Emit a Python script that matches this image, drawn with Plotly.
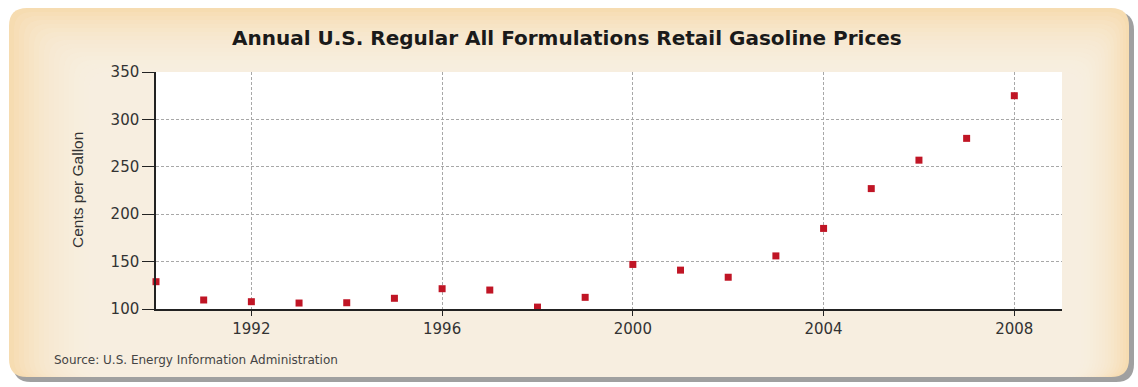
import plotly.graph_objects as go

years = [1990, 1991, 1992, 1993, 1994, 1995, 1996, 1997, 1998, 1999,
         2000, 2001, 2002, 2003, 2004, 2005, 2006, 2007, 2008]
prices = [128.8, 109.5, 107.7, 106.3, 106.6, 111.3, 121.4, 120.0, 102.0, 112.3,
          147.0, 141.0, 133.5, 156.0, 185.0, 227.0, 257.0, 280.0, 325.0]
x_ticks = [1992, 1996, 2000, 2004, 2008]
y_ticks = [100, 150, 200, 250, 300, 350]

title_text = "Annual U.S. Regular All Formulations Retail Gasoline Prices"
y_title = "Cents per Gallon"
source_text = "Source: U.S. Energy Information Administration"

W, H = 1138, 387
ML, MR, MT, MB = 156, 76, 72, 78
pl, pr, pt, pb = ML, W - MR, MT, H - MB
pw, ph = pr - pl, pb - pt


def to_paper(x, y):
    return (x - pl) / pw, (pb - y) / ph


def rr_px(x0, y0, x1, y1, r):
    def P(x, y):
        a, b = to_paper(x, y)
        return f"{a:.5f},{b:.5f}"
    return (f"M {P(x0+r,y0)} L {P(x1-r,y0)} Q {P(x1,y0)} {P(x1,y0+r)} "
            f"L {P(x1,y1-r)} Q {P(x1,y1)} {P(x1-r,y1)} L {P(x0+r,y1)} "
            f"Q {P(x0,y1)} {P(x0,y1-r)} L {P(x0,y0+r)} Q {P(x0,y0)} {P(x0+r,y0)} Z")


fig = go.Figure()
fig.add_trace(go.Scatter(
    x=years, y=prices, mode="markers", cliponaxis=False,
    marker=dict(symbol="square", size=7, color="#c01525", line=dict(width=0)),
    hoverinfo="x+y", showlegend=False,
))

shapes = [
    dict(type="path", xref="paper", yref="paper", layer="below",
         path=rr_px(13, 12, 1134, 382, 18), fillcolor="#8f8f8f", line=dict(width=0), opacity=0.85),
    dict(type="path", xref="paper", yref="paper", layer="below",
         path=rr_px(9, 8, 1129, 377, 18), fillcolor="#f6dcb1", line=dict(width=0)),
]
# soft gradient: nested lighter layers toward lower-middle
N = 16
for i in range(1, N + 1):
    x0 = 9 + i * 5.0
    x1 = 1129 - i * 3.0
    y0 = 8 + i * 4.0
    y1 = 377
    shapes.append(dict(type="path", xref="paper", yref="paper", layer="below",
                       path=rr_px(x0, y0, x1, y1, 18), fillcolor="#fff8ec",
                       line=dict(width=0), opacity=0.11))
shapes.append(dict(type="rect", xref="paper", yref="paper", layer="below",
                   x0=0, x1=1, y0=0, y1=1, fillcolor="white", line=dict(width=0)))

fig.update_layout(
    width=W, height=H,
    margin=dict(l=ML, r=MR, t=MT, b=MB),
    paper_bgcolor="white",
    plot_bgcolor="rgba(0,0,0,0)",
    font=dict(family="DejaVu Sans, Verdana, sans-serif", color="#333333"),
    shapes=shapes,
    annotations=[
        dict(text=f"<b>{title_text}</b>", xref="paper", yref="paper",
             x=to_paper(567, 0)[0], y=to_paper(0, 38)[1], xanchor="center", yanchor="middle",
             showarrow=False, font=dict(size=20, color="#1a1a1a",
                                        family="DejaVu Sans, Verdana, sans-serif")),
        dict(text=y_title, xref="paper", yref="paper", textangle=-90,
             x=to_paper(77, 0)[0], y=to_paper(0, 190)[1], xanchor="center", yanchor="middle",
             showarrow=False, font=dict(size=15.5, color="#333333",
                                        family="Liberation Sans, Arial, sans-serif")),
        dict(text=source_text, xref="paper", yref="paper",
             x=to_paper(52, 0)[0], y=to_paper(0, 360)[1], xanchor="left", yanchor="middle",
             showarrow=False, font=dict(size=12, color="#444444",
                                        family="DejaVu Sans, Verdana, sans-serif")),
    ],
)

fig.update_xaxes(
    range=[1990, 2009], tickvals=x_ticks, ticktext=[str(t) for t in x_ticks],
    showline=True, linecolor="#222222", linewidth=1.5,
    ticks="outside", ticklen=5, tickcolor="#222222",
    showgrid=True, gridcolor="#a8a8a8", griddash="3px,2px", gridwidth=1,
    zeroline=False, tickfont=dict(size=15, color="#333333"),
)
fig.update_yaxes(
    range=[100, 350], tickvals=y_ticks,
    showline=True, linecolor="#222222", linewidth=1.5,
    ticks="outside", ticklen=12, tickcolor="#222222",
    showgrid=True, gridcolor="#a8a8a8", griddash="3px,2px", gridwidth=1,
    zeroline=False, tickfont=dict(size=15, color="#333333"),
)

fig.write_html("out.html")
